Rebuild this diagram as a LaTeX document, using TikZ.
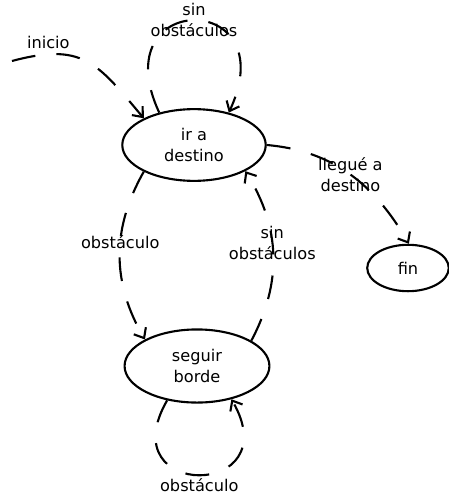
\documentclass[tikz,border=0pt]{standalone}
\usepackage{fontspec}
\setmainfont{DejaVu Sans}
\usetikzlibrary{arrows,arrows.meta,shapes.geometric}

\begin{document}
\begin{tikzpicture}[x=0.025cm,y=0.025cm]
	\tikzstyle{every node}=[font=\fontsize{11.5}{15}\selectfont, align=center]
	\tikzstyle{estado}=[draw, ellipse, line width=1.5pt, inner sep=0pt]
	\tikzstyle{trans}=[->, >={Straight Barb[length=6pt,width=10pt]}, line width=1.5pt, dash pattern=on 17pt off 15pt]
	\useasboundingbox (0,0) rectangle (448,-499);
	\draw (194,-145) node (ira) [estado, minimum width=102pt, minimum height=51pt] {ir a\\destino};
	\draw (197,-366) node (seguir) [estado, minimum width=103pt, minimum height=52pt] {seguir\\borde};
	\draw (408,-268) node (fin) [estado, minimum width=58pt, minimum height=33pt] {fin};
	\coordinate (ini) at (12,-61);
	\draw[trans] (ini) to[out=15, in=130, looseness=1.3] node[pos=.2, above] {inicio} (ira.152);
	\draw[trans] (ira.137) to[out=115, in=65, looseness=5] node[midway] {sin\\obstáculos} (ira.43);
	\draw[trans] (ira.208) to[bend right=30] node[pos=.42] {obstáculo} (seguir.153);
	\draw[trans] (seguir.25) to[bend right=30] node[pos=.57] {sin\\obstáculos} (ira.333);
	\draw[trans] (ira.east) to[out=-5, in=120] node[midway] {llegué a\\destino} (fin.88);
	\draw[trans] (seguir.229) to[out=240, in=300, looseness=4.6] node[midway, below, inner sep=2pt] {obstáculo} (seguir.316);
\end{tikzpicture}
\end{document}
